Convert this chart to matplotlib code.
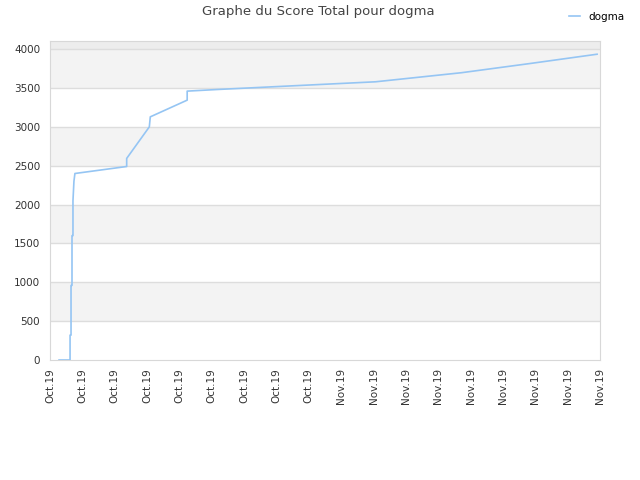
import matplotlib
matplotlib.use("Agg")
import matplotlib.pyplot as plt
import numpy as np

# x in tick-slot units (0 = first label, 17 = last)
x = [0.28, 0.62, 0.62, 0.65, 0.65, 0.68, 0.68, 0.71, 0.71, 0.74, 0.77,
     2.37, 2.37, 3.07, 3.10, 4.24, 4.24, 5.22, 7.93, 10.06, 12.72, 14.85, 16.91]
score = [0, 0, 320, 320, 960, 960, 1600, 1600, 2050, 2300, 2400,
         2490, 2594, 3000, 3129, 3344, 3460, 3482, 3537, 3580, 3697, 3816, 3935]
labels = ["Oct.19"] * 9 + ["Nov.19"] * 9
yticks = list(range(0, 4001, 500))

fig = plt.figure(figsize=(6.4, 4.8), dpi=100)
ax = fig.add_axes([50 / 640, 120 / 480, 550 / 640, 319 / 480])

ymax = 4105
ax.set_xlim(0, 17)
ax.set_ylim(0, ymax)

# alternating bands
for lo in range(500, 4000, 1000):
    ax.axhspan(lo, lo + 500, color="#f3f3f3", zorder=0, lw=0)
ax.axhspan(4000, ymax, color="#ededed", zorder=0, lw=0)
for t in yticks[1:]:
    ax.axhline(t, color="#dddddd", lw=1, zorder=1)

ax.plot(x, score, color="#95c5f3", lw=1.2, zorder=3, label="dogma")

ax.set_xticks(range(18))
ax.set_xticklabels(labels, rotation=90, fontsize=7.5, color="#333333")
ax.set_yticks(yticks)
ax.set_yticklabels([str(t) for t in yticks], fontsize=7.5, color="#333333")
ax.tick_params(axis="x", length=0, pad=6)
ax.tick_params(axis="y", length=0, pad=7)
for s in ax.spines.values():
    s.set_color("#d8d8d8")

fig.text(318 / 640, 1 - 12 / 480, "Graphe du Score Total pour dogma",
         ha="center", va="center", fontsize=9.5, color="#444444")
fig.legend(loc="upper right", bbox_to_anchor=(0.99, 0.995), frameon=False,
           fontsize=7.5, handlelength=1.0)

fig.savefig("out.png", dpi=100)
